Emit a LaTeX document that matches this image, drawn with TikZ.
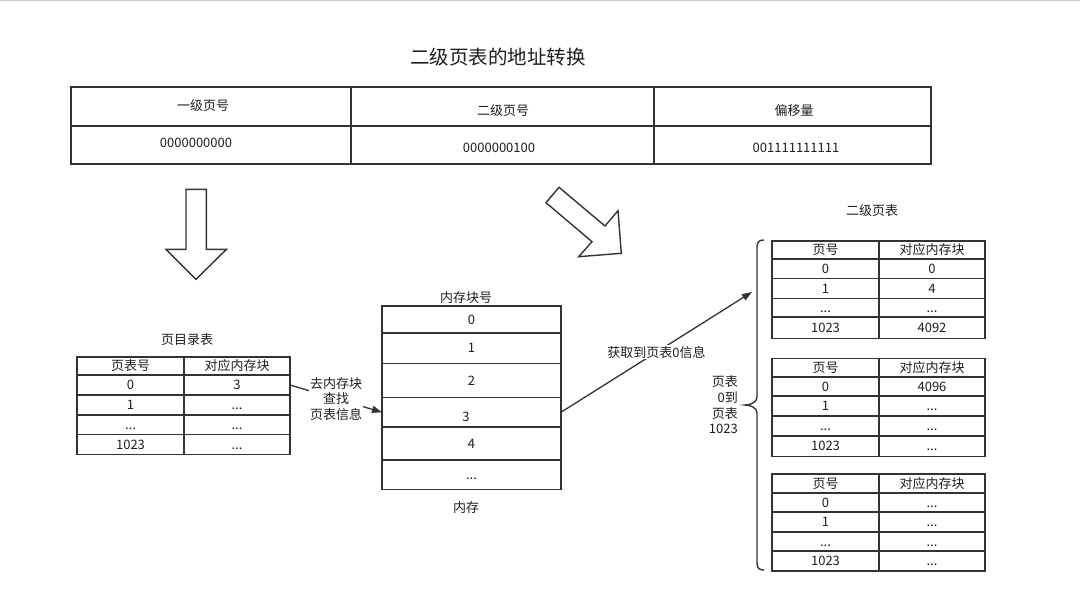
\documentclass[tikz,border=0pt]{standalone}
\usepackage{fontspec}
\setmainfont{Noto Sans CJK SC}
\usetikzlibrary{arrows.meta,calc}
\definecolor{lc}{HTML}{333333}
\definecolor{tc}{HTML}{1E1E1E}
\newcommand\fs[1]{\fontsize{#1}{#1}\selectfont}
\newcommand\fsl[2]{\fontsize{#1}{#2}\selectfont}
\tikzset{
  cell/.style={draw=lc, line width=1.5pt, inner sep=0pt, outer sep=0pt, anchor=north west, text=tc, font=\fs{13}, text height=11pt, text depth=1.6pt},
  lbl/.style={text=tc, font=\fs{13}, inner sep=1pt},
  blockarrow/.style={draw=lc, line width=1.4pt, fill=white, line join=miter},
  conn/.style={draw=lc, line width=1.3pt, -{Triangle[length=10pt,width=7pt]}},
}
% two-column table row: prefix, x, y, height, left text, right text
\newcommand\trow[6]{%
  \node[cell, minimum width=107pt, minimum height=#4pt] (#1a) at (#2,#3) {#5};
  \node[cell, minimum width=106pt, minimum height=#4pt] (#1b) at (#2+107,#3) {#6};}
\begin{document}
\begin{tikzpicture}[x=1pt,y=-1pt]
\useasboundingbox (0,0) rectangle (1080,605);
\fill[white] (0,0) rectangle (1080,605);
\draw[color=black!20, line width=1.5pt] (0,0.6) -- (1080,0.6);

% title
\node[lbl, font=\fs{19.5}] (title) at (498,57) {二级页表的地址转换};

% top address table
\draw[lc, line width=1.5pt] (71,87) rectangle (931,164);
\draw[lc, line width=1.5pt] (71,126) -- (931,126);
\draw[lc, line width=1.5pt] (351,87) -- (351,164);
\draw[lc, line width=1.5pt] (654,87) -- (654,164);
\node[lbl] (h1) at (203,106) {一级页号};
\node[lbl] (h2) at (503,111) {二级页号};
\node[lbl] (h3) at (794,111) {偏移量};
\node[lbl] (v1) at (196,143) {0000000000};
\node[lbl] (v2) at (499,148) {0000000100};
\node[lbl] (v3) at (796,148) {001111111111};

% block arrows
\draw[blockarrow] (186,189.3) -- (206.3,189.3) -- (206.3,249.3) -- (226.5,249.3)
  -- (196,279.3) -- (166,249.3) -- (186,249.3) -- cycle;
\draw[blockarrow] (559,187.3) -- (605,226) -- (618,210.7) -- (621.3,253.3)
  -- (578.7,256.7) -- (592,241.7) -- (546,202.7) -- cycle;

% page directory table
\node[lbl] (dtitle) at (187,340) {页目录表};
\trow{dh}{77}{357}{18}{页表号}{对应内存块}
\trow{d0}{77}{375}{20}{0}{3}
\trow{d1}{77}{395}{20}{1}{...}
\trow{d2}{77}{415}{19.5}{...}{...}
\trow{d3}{77}{434.5}{20}{1023}{...}

% memory
\node[lbl] (mtitle) at (466,298) {内存块号};
\node[cell, minimum width=179pt, minimum height=27pt] (m0) at (382,306) {0};
\node[cell, minimum width=179pt, minimum height=30.5pt] (m1) at (382,333) {1};
\node[cell, minimum width=179pt, minimum height=34pt] (m2) at (382,363.5) {2};
\node[cell, minimum width=179pt, minimum height=29.5pt] (m3) at (382,397.5) {};
\node[lbl] (m3t) at (466,416.5) {3};
\node[cell, minimum width=179pt, minimum height=33pt] (m4) at (382,427) {4};
\node[cell, minimum width=179pt, minimum height=29.5pt] (m5) at (382,460) {...};
\node[lbl] (mlabel) at (466,508) {内存};

% second level page tables
\node[lbl] (ptitle) at (872,210.5) {二级页表};
\trow{ah}{772}{241}{18}{页号}{对应内存块}
\trow{a0}{772}{259}{19.5}{0}{0}
\trow{a1}{772}{278.5}{20}{1}{4}
\trow{a2}{772}{298.5}{18.5}{...}{...}
\trow{a3}{772}{317}{21.5}{1023}{4092}

\trow{bh}{772}{358.5}{18.5}{页号}{对应内存块}
\trow{b0}{772}{377}{19}{0}{4096}
\trow{b1}{772}{396}{20}{1}{...}
\trow{b2}{772}{416}{20}{...}{...}
\trow{b3}{772}{436}{20.5}{1023}{...}

\trow{ch}{772}{474}{19}{页号}{对应内存块}
\trow{c0}{772}{493}{19}{0}{...}
\trow{c1}{772}{512}{20}{1}{...}
\trow{c2}{772}{532}{19}{...}{...}
\trow{c3}{772}{551}{20}{1023}{...}

% brace
\draw[lc, line width=1.4pt] (764,240) .. controls (759,240) and (757,242) .. (757,247)
  -- (757,397) .. controls (757,402) and (751,405) .. (745,405)
  .. controls (751,405) and (757,408) .. (757,413)
  -- (757,563) .. controls (757,568) and (759,570) .. (764,570);
\node[lbl, align=right, anchor=east, font=\fsl{13}{15.6}] (blabel) at (739,405) {页表\\0到\\页表\\1023};

% connectors
\coordinate (tgt) at (752,292);
\draw[conn] (d0b.east) -- node[lbl, fill=white, align=center, font=\fsl{13}{15.5}] (c1lbl) {去内存块\\查找\\页表信息} (m3.west);
\draw[conn] (m3.east) -- node[lbl, fill=white] (c2lbl) {获取到页表0信息} (tgt);
\end{tikzpicture}
\end{document}
